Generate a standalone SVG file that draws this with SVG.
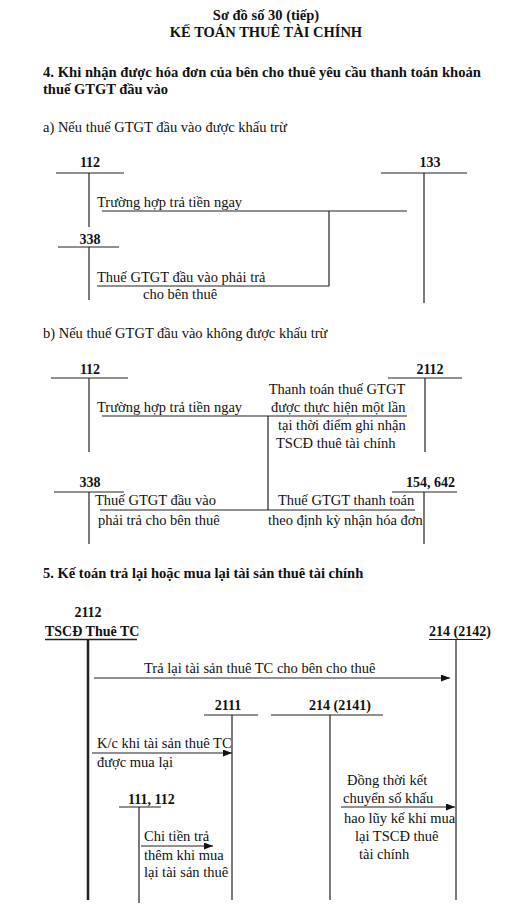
<svg xmlns="http://www.w3.org/2000/svg" width="518" height="915" viewBox="0 0 518 915">
<style>
text{font-family:"Liberation Serif","Times New Roman",serif;fill:#111}
.t{font-size:14.5px}
.b{font-size:14px;font-weight:bold}
.h{font-size:14.5px;font-weight:bold}
.c{text-anchor:middle}
.r{text-anchor:end}
line{stroke:#222;stroke-width:1.2;fill:none}
.thick{stroke-width:2.5}
.arr{marker-end:url(#ah)}
</style>
<defs>
<marker id="ah" markerWidth="9" markerHeight="7" refX="9" refY="3.5" orient="auto" markerUnits="userSpaceOnUse">
<path d="M0,0 L9,3.5 L0,7 Z" fill="#111"/>
</marker>
</defs>
<rect width="518" height="915" fill="#fff"/>
<g id="titles">
<text class="h c" x="266" y="20">Sơ đồ số 30 (tiếp)</text>
<text class="h c" x="266" y="37">KẾ TOÁN THUÊ TÀI CHÍNH</text>
<text class="h" x="43" y="77" textLength="438" lengthAdjust="spacingAndGlyphs">4. Khi nhận được hóa đơn của bên cho thuê yêu cầu thanh toán khoản</text>
<text class="h" x="43" y="94">thuế GTGT đầu vào</text>
<text class="t" x="43" y="132">a) Nếu thuế GTGT đầu vào được khấu trừ</text>
<text class="t" x="43" y="338">b) Nếu thuế GTGT đầu vào không được khấu trừ</text>
<text class="h" x="43" y="578">5. Kế toán trả lại hoặc mua lại tài sản thuê tài chính</text>
</g>
<g id="a-112">
<text class="b c" x="90" y="167">112</text>
<line x1="56" y1="173" x2="124" y2="173"/>
<line x1="89" y1="173" x2="89" y2="227"/>
</g>
<g id="a-133">
<text class="b c" x="430" y="167">133</text>
<line x1="381" y1="173" x2="467" y2="173"/>
<line x1="424" y1="173" x2="424" y2="303"/>
</g>
<g id="a-338">
<text class="b c" x="90" y="244">338</text>
<line x1="58" y1="247" x2="119" y2="247"/>
<line x1="89" y1="247" x2="89" y2="300"/>
</g>
<g id="b-112">
<text class="b c" x="90" y="374">112</text>
<line x1="51" y1="378" x2="128" y2="378"/>
<line x1="89" y1="378" x2="89" y2="452"/>
</g>
<g id="b-2112">
<text class="b c" x="430" y="374">2112</text>
<line x1="388" y1="378" x2="462" y2="378"/>
<line x1="425" y1="378" x2="425" y2="452"/>
</g>
<g id="b-338">
<text class="b c" x="90" y="487">338</text>
<line x1="54" y1="492" x2="124" y2="492"/>
<line x1="89" y1="492" x2="89" y2="544"/>
</g>
<g id="b-154-642">
<text class="b r" x="455" y="487">154, 642</text>
<line x1="392" y1="492" x2="457" y2="492"/>
<line x1="424" y1="492" x2="424" y2="544"/>
</g>
<g id="c-2112">
<text class="b c" x="88" y="617">2112</text>
<text class="b" x="45" y="636">TSCĐ Thuê TC</text>
<line x1="45" y1="639.5" x2="137" y2="639.5" style="stroke-width:1.5"/>
<line x1="88" y1="639" x2="88" y2="900" class="thick"/>
</g>
<g id="c-2142">
<text class="b" x="429" y="636">214 (2142)</text>
<line x1="429" y1="639.5" x2="483" y2="639.5"/>
<line x1="456" y1="639" x2="456" y2="900"/>
</g>
<g id="c-2111">
<text class="b c" x="228" y="710">2111</text>
<line x1="204" y1="715" x2="258" y2="715"/>
<line x1="232" y1="715" x2="232" y2="900"/>
</g>
<g id="c-2141">
<text class="b c" x="340" y="710">214 (2141)</text>
<line x1="271" y1="715" x2="383" y2="715"/>
<line x1="330" y1="715" x2="330" y2="900"/>
</g>
<g id="c-111-112">
<text class="b" x="128" y="804">111, 112</text>
<line x1="119" y1="807" x2="161" y2="807"/>
<line x1="139" y1="807" x2="139" y2="903"/>
</g>
<g id="connectors">
<line x1="102" y1="211" x2="407" y2="211"/>
<line x1="329" y1="211" x2="329" y2="286"/>
<line x1="97" y1="286" x2="329" y2="286"/>
<line x1="102" y1="416" x2="407" y2="416"/>
<line x1="268" y1="416" x2="268" y2="510"/>
<line x1="100" y1="510" x2="415" y2="510"/>
<line class="arr" x1="94" y1="678" x2="450" y2="678"/>
<line class="arr" x1="92" y1="753" x2="232" y2="753"/>
<line class="arr" x1="141" y1="846" x2="213" y2="846"/>
<line class="arr" x1="341" y1="807" x2="455" y2="807"/>
</g>
<g id="labels">
<text class="t" x="97" y="207">Trường hợp trả tiền ngay</text>
<text class="t" x="97" y="282">Thuế GTGT đầu vào phải trả</text>
<text class="t" x="143" y="299">cho bên thuê</text>
<text class="t c" x="337" y="394">Thanh toán thuế GTGT</text>
<text class="t" x="97" y="412">Trường hợp trả tiền ngay</text>
<text class="t" x="271" y="412">được thực hiện một lần</text>
<text class="t" x="278" y="430">tại thời điểm ghi nhận</text>
<text class="t" x="276" y="448">TSCĐ thuê tài chính</text>
<text class="t" x="95" y="505">Thuế GTGT đầu vào</text>
<text class="t" x="278" y="505">Thuế GTGT thanh toán</text>
<text class="t" x="98" y="525">phải trả cho bên thuê</text>
<text class="t" x="268" y="525">theo định kỳ nhận hóa đơn</text>
<text class="t" x="144" y="673">Trả lại tài sản thuê TC cho bên cho thuê</text>
<text class="t" x="97" y="748">K/c khi tài sản thuê TC</text>
<text class="t" x="97" y="767">được mua lại</text>
<text class="t" x="144" y="841">Chi tiền trả</text>
<text class="t" x="144" y="860">thêm khi mua</text>
<text class="t" x="144" y="877">lại tài sản thuê</text>
<text class="t" x="347" y="785">Đồng thời kết</text>
<text class="t" x="343" y="803">chuyển số khấu</text>
<text class="t" x="344" y="823">hao lũy kế khi mua</text>
<text class="t" x="355" y="841">lại TSCĐ thuê</text>
<text class="t" x="359" y="859">tài chính</text>
</g>
</svg>
